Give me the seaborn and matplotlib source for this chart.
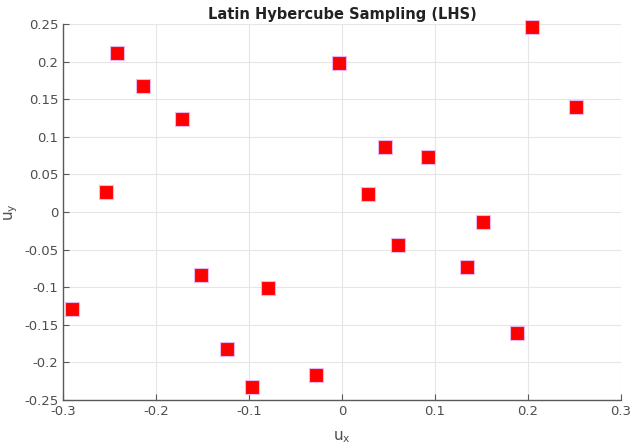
import numpy as np
import pandas as pd
import matplotlib
matplotlib.use('Agg')
import matplotlib.pyplot as plt
import seaborn as sns

# LHS sample points
ux = [-0.290, -0.254, -0.242, -0.214, -0.172, -0.152, -0.124, -0.097, -0.080, -0.028,
      -0.003, 0.028, 0.046, 0.060, 0.092, 0.134, 0.151, 0.188, 0.204, 0.251]
uy = [-0.129, 0.027, 0.211, 0.168, 0.124, -0.084, -0.182, -0.233, -0.101, -0.217,
      0.198, 0.024, 0.086, -0.044, 0.073, -0.073, -0.013, -0.161, 0.246, 0.140]
xticks = [-0.3, -0.2, -0.1, 0, 0.1, 0.2, 0.3]
yticks = [-0.25, -0.2, -0.15, -0.1, -0.05, 0, 0.05, 0.1, 0.15, 0.2, 0.25]

df = pd.DataFrame({'ux': ux, 'uy': uy})

sns.set_style('white')
plt.rcParams['font.family'] = ['DejaVu Sans']

fig = plt.figure(figsize=(6.39, 4.46), dpi=100)
ax = fig.add_axes([0.0986, 0.103, 0.8734, 0.843])

sns.scatterplot(data=df, x='ux', y='uy', marker='s', s=110, color='#ff0000',
                edgecolor='#e8b8ee', linewidth=0.8, ax=ax, zorder=3)
for c in ax.collections:
    c.set_clip_on(False)

ax.set_xlim(-0.3, 0.3)
ax.set_ylim(-0.25, 0.25)
ax.set_xticks(xticks)
ax.set_yticks(yticks)
ax.set_xticklabels([f'{t:g}' for t in xticks])
ax.set_yticklabels([f'{t:g}' for t in yticks])
ax.grid(True, color='#e6e6e6', linewidth=0.8)
ax.set_axisbelow(True)

for side in ['top', 'right']:
    ax.spines[side].set_visible(False)
for side in ['left', 'bottom']:
    ax.spines[side].set_color('#5a5a5a')
    ax.spines[side].set_linewidth(1.0)

ax.tick_params(direction='in', length=4, width=0.8, color='#5a5a5a',
               labelcolor='#4d4d4d', labelsize=9.5, left=True, bottom=True)

ax.set_title('Latin Hybercube Sampling (LHS)', fontsize=10.5, fontweight='bold',
             color='#222222', pad=4)
ax.set_xlabel(r'u$_\mathregular{x}$', fontsize=11, color='#4d4d4d', labelpad=8)
ax.set_ylabel(r'u$_\mathregular{y}$', fontsize=11, color='#4d4d4d', labelpad=3)

fig.savefig('out.png', dpi=100)
